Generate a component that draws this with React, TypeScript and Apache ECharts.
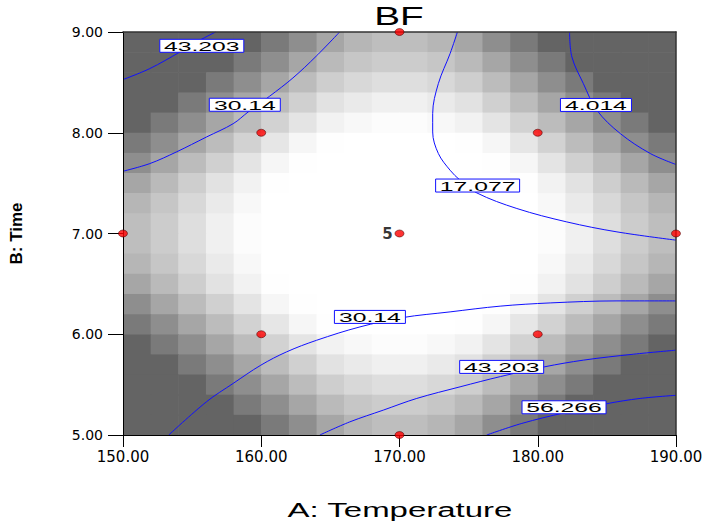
import React, { useEffect, useRef } from "react";
import * as echarts from "echarts";

// ---- axes ----
const xTicks = [150, 160, 170, 180, 190];
const yTicks = [5, 6, 7, 8, 9];

// ---- shaded background cells (20 x 20), edges in data units ----
const xCellEdges = [150, 152, 154, 156, 158, 160, 162, 164, 166, 168, 170, 172, 174, 176, 178, 180, 182, 184, 186, 188, 190];
// top to bottom
const yCellEdges = [9.0, 8.8, 8.6, 8.4, 8.2, 8.0, 7.8, 7.6, 7.4, 7.2, 7.0, 6.8, 6.6, 6.4, 6.2, 6.0, 5.8, 5.6, 5.4, 5.2, 5.0];
// grey level of each cell, rows from top (Time 9) to bottom (Time 5), columns from 150 to 190
const grayRows = [
  [100, 100, 100, 100, 100, 122, 142, 166, 182, 190, 190, 182, 166, 142, 122, 100, 100, 100, 100, 100],
  [100, 100, 100, 100, 122, 142, 166, 186, 198, 204, 204, 198, 186, 166, 142, 122, 100, 100, 100, 100],
  [100, 100, 100, 122, 142, 166, 188, 206, 216, 222, 222, 216, 206, 188, 166, 142, 122, 100, 100, 100],
  [100, 100, 122, 142, 166, 188, 208, 226, 234, 240, 240, 234, 226, 208, 188, 166, 142, 122, 100, 100],
  [100, 122, 142, 166, 188, 210, 228, 242, 248, 252, 252, 248, 242, 228, 210, 188, 166, 142, 122, 100],
  [122, 142, 166, 188, 210, 230, 246, 254, 255, 255, 255, 255, 254, 246, 230, 210, 188, 166, 142, 122],
  [142, 166, 188, 208, 228, 246, 254, 255, 255, 255, 255, 255, 255, 254, 246, 228, 208, 188, 166, 142],
  [166, 186, 206, 226, 242, 254, 255, 255, 255, 255, 255, 255, 255, 255, 254, 242, 226, 206, 186, 166],
  [182, 198, 216, 234, 248, 255, 255, 255, 255, 255, 255, 255, 255, 255, 255, 248, 234, 216, 198, 182],
  [190, 204, 222, 240, 252, 255, 255, 255, 255, 255, 255, 255, 255, 255, 255, 252, 240, 222, 204, 190],
  [190, 204, 222, 240, 252, 255, 255, 255, 255, 255, 255, 255, 255, 255, 255, 252, 240, 222, 204, 190],
  [182, 198, 216, 234, 248, 255, 255, 255, 255, 255, 255, 255, 255, 255, 255, 248, 234, 216, 198, 182],
  [166, 186, 206, 226, 242, 254, 255, 255, 255, 255, 255, 255, 255, 255, 254, 242, 226, 206, 186, 166],
  [142, 166, 188, 208, 228, 246, 254, 255, 255, 255, 255, 255, 255, 254, 246, 228, 208, 188, 166, 142],
  [122, 142, 166, 188, 210, 230, 246, 254, 255, 255, 255, 255, 254, 246, 230, 210, 188, 166, 142, 122],
  [100, 122, 142, 166, 188, 210, 228, 242, 248, 252, 252, 248, 242, 228, 210, 188, 166, 142, 122, 100],
  [100, 100, 122, 142, 166, 188, 208, 226, 234, 240, 240, 234, 226, 208, 188, 166, 142, 122, 100, 100],
  [100, 100, 100, 122, 142, 166, 188, 206, 216, 222, 222, 216, 206, 188, 166, 142, 122, 100, 100, 100],
  [100, 100, 100, 100, 122, 142, 166, 186, 198, 204, 204, 198, 186, 166, 142, 122, 100, 100, 100, 100],
  [100, 100, 100, 100, 100, 122, 142, 166, 182, 190, 190, 182, 166, 142, 122, 100, 100, 100, 100, 100],
];

// ---- contour lines [Temperature, Time] ----
const contour43Top = [[150, 8.528], [151.94, 8.637], [154.1, 8.8], [155.55, 8.918], [156.7, 9.0]];
const contour30Top = [[150, 7.618], [151.94, 7.694], [153.87, 7.81], [156.04, 7.958], [157.97, 8.09], [159.05, 8.206], [160.6, 8.362], [162.29, 8.544], [163.97, 8.759], [165.67, 9.0]];
const contour17 = [[174.19, 9.0], [173.66, 8.786], [172.81, 8.488], [172.4, 8.19], [172.4, 8.008], [172.81, 7.794], [173.66, 7.628], [174.38, 7.529], [175.59, 7.403], [178.49, 7.248], [182.1, 7.115], [185.73, 7.016], [190, 6.934]];
const contour4 = [[182.3, 9.0], [182.47, 8.752], [183.3, 8.488], [184.28, 8.223], [185.97, 7.992], [188.14, 7.794], [190, 7.685]];
const contour30Bottom = [[153.31, 5.0], [156.04, 5.33], [157.97, 5.512], [159.97, 5.693], [161.83, 5.825], [164.0, 5.94], [167.14, 6.073], [170.2, 6.165], [173.66, 6.222], [177.28, 6.279], [180.9, 6.311], [185.73, 6.331], [190, 6.331]];
const contour43Bottom = [[164.24, 5.0], [166.4, 5.13], [168.83, 5.247], [171.25, 5.363], [174.38, 5.478], [177.3, 5.58], [180.5, 5.677], [183.3, 5.743], [186.93, 5.802], [190, 5.842]];
const contour56 = [[176.31, 5.0], [178.85, 5.115], [181.9, 5.22], [184.96, 5.31], [187.41, 5.363], [190, 5.394]];

const contourLabelPositions = [[155.7, 8.863], [158.81, 8.278], [175.65, 7.476], [184.21, 8.276], [167.86, 6.172], [177.39, 5.676], [181.9, 5.275]];
const contourLabelTexts = ["43.203", "30.14", "17.077", "4.014", "30.14", "43.203", "56.266"];

// ---- design points ----
const designPoints = [[150, 7], [160, 8], [170, 9], [180, 8], [190, 7], [160, 6], [180, 6], [170, 5]];
const centerPoint = [[170, 7]];
const centerReplicates = ["5"];

const title = "BF";
const xName = "A: Temperature";
const yName = "B: Time";

export default function App() {
  const ref = useRef<HTMLDivElement>(null);

  useEffect(() => {
    if (!ref.current) return;
    const chart = echarts.init(ref.current, null, { renderer: "svg" });

    const cellData: number[][] = [];
    for (let r = 0; r < grayRows.length; r++) {
      for (let c = 0; c < grayRows[r].length; c++) {
        cellData.push([xCellEdges[c], xCellEdges[c + 1], yCellEdges[r + 1], yCellEdges[r], grayRows[r][c]]);
      }
    }

    const contours = [contour43Top, contour30Top, contour17, contour4, contour30Bottom, contour43Bottom, contour56];
    const lineSeries = contours.map((d) => ({
      type: "line",
      data: d,
      smooth: 0.35,
      symbol: "none",
      clip: true,
      z: 3,
      lineStyle: { color: "#1010ff", width: 1 },
    }));

    const axisFont = "DejaVu Sans, Liberation Sans, Arial, sans-serif";

    chart.setOption({
      animation: false,
      backgroundColor: "#ffffff",
      grid: { left: 123, right: 33, top: 32, bottom: 90, containLabel: false },
      graphic: [
        {
          type: "text",
          x: 399,
          y: 16,
          scaleX: 1.55,
          style: {
            text: title,
            fontSize: 25,
            fontFamily: "Liberation Sans, Arial, sans-serif",
            fill: "#000",
            align: "center",
            verticalAlign: "middle",
          },
          z: 20,
        },
        {
          type: "text",
          x: 400,
          y: 510,
          scaleX: 1.65,
          style: {
            text: xName,
            fontSize: 20,
            fontFamily: "Liberation Sans, Arial, sans-serif",
            fill: "#000",
            align: "center",
            verticalAlign: "middle",
          },
          z: 20,
        },
      ],
      xAxis: [
        {
          type: "value",
          min: xTicks[0],
          max: xTicks[xTicks.length - 1],
          interval: xTicks[1] - xTicks[0],
          position: "bottom",
          z: 5,
          axisLine: { show: true, onZero: false, lineStyle: { color: "#000", width: 1 } },
          axisTick: { show: true, length: 12, lineStyle: { color: "#000" } },
          axisLabel: { formatter: (v: number) => v.toFixed(2), fontSize: 15, fontFamily: axisFont, color: "#000", margin: 14 },
          splitLine: { show: false },
        },
        {
          type: "value",
          min: xTicks[0],
          max: xTicks[xTicks.length - 1],
          position: "top",
          z: 5,
          axisLine: { show: true, onZero: false, lineStyle: { color: "#333", width: 1.5 } },
          axisTick: { show: false },
          axisLabel: { show: false },
          splitLine: { show: false },
        },
      ],
      yAxis: [
        {
          type: "value",
          min: yTicks[0],
          max: yTicks[yTicks.length - 1],
          interval: yTicks[1] - yTicks[0],
          position: "left",
          z: 5,
          name: yName,
          nameLocation: "middle",
          nameRotate: 90,
          nameGap: 98,
          nameTextStyle: { fontSize: 17, fontWeight: "bold", fontFamily: "Liberation Sans, Arial, sans-serif", color: "#000" },
          axisLine: { show: true, onZero: false, lineStyle: { color: "#000", width: 1 } },
          axisTick: { show: true, length: 15, lineStyle: { color: "#000" } },
          axisLabel: { formatter: (v: number) => v.toFixed(2), fontSize: 14, fontFamily: axisFont, color: "#000", margin: 20 },
          splitLine: { show: false },
        },
        {
          type: "value",
          min: yTicks[0],
          max: yTicks[yTicks.length - 1],
          position: "right",
          z: 5,
          axisLine: { show: true, onZero: false, lineStyle: { color: "#333", width: 1.5 } },
          axisTick: { show: false },
          axisLabel: { show: false },
          splitLine: { show: false },
        },
      ],
      series: [
        {
          type: "custom",
          name: "shade",
          clip: true,
          z: 1,
          silent: true,
          data: cellData,
          encode: { x: [0, 1], y: [2, 3] },
          renderItem: (params: any, api: any) => {
            const p0 = api.coord([api.value(0), api.value(3)]);
            const p1 = api.coord([api.value(1), api.value(2)]);
            const g = api.value(4);
            return {
              type: "rect",
              shape: { x: p0[0], y: p0[1], width: p1[0] - p0[0] + 0.6, height: p1[1] - p0[1] + 0.6 },
              style: { fill: `rgb(${g},${g},${g})` },
            };
          },
        },
        ...lineSeries,
        {
          type: "custom",
          name: "contour labels",
          z: 4,
          silent: true,
          data: contourLabelPositions,
          renderItem: (params: any, api: any) => {
            const p = api.coord([api.value(0), api.value(1)]);
            const text = contourLabelTexts[params.dataIndex];
            const w = text.length * 13 + 6;
            return {
              type: "group",
              x: p[0],
              y: p[1],
              children: [
                {
                  type: "rect",
                  shape: { x: -w / 2, y: -6.5, width: w, height: 13 },
                  style: { fill: "#ffffff", stroke: "#1010ff", lineWidth: 1 },
                },
                {
                  type: "text",
                  scaleX: 1.9,
                  style: {
                    text,
                    x: 0,
                    y: 0.5,
                    align: "center",
                    verticalAlign: "middle",
                    fontSize: 13,
                    fontFamily: "Liberation Sans, Arial, sans-serif",
                    fill: "#000",
                  },
                },
              ],
            };
          },
        },
        {
          type: "scatter",
          name: "design points",
          data: designPoints,
          symbol: "circle",
          symbolSize: [9, 7],
          clip: false,
          z: 10,
          itemStyle: { color: "#ff0000", borderColor: "#500000", borderWidth: 0.7 },
        },
        {
          type: "scatter",
          name: "center point",
          data: centerPoint,
          symbol: "circle",
          symbolSize: [9, 7],
          clip: false,
          z: 10,
          itemStyle: { color: "#ff0000", borderColor: "#500000", borderWidth: 0.7 },
          label: {
            show: true,
            position: "left",
            distance: 2,
            formatter: (p: any) => centerReplicates[p.dataIndex],
            fontSize: 15,
            fontWeight: "bold",
            fontFamily: axisFont,
            color: "#000",
          },
        },
      ],
    });

    return () => chart.dispose();
  }, []);

  return <div ref={ref} style={{ position: "fixed", left: 0, top: 0, width: 709, height: 525, background: "#fff" }} />;
}
